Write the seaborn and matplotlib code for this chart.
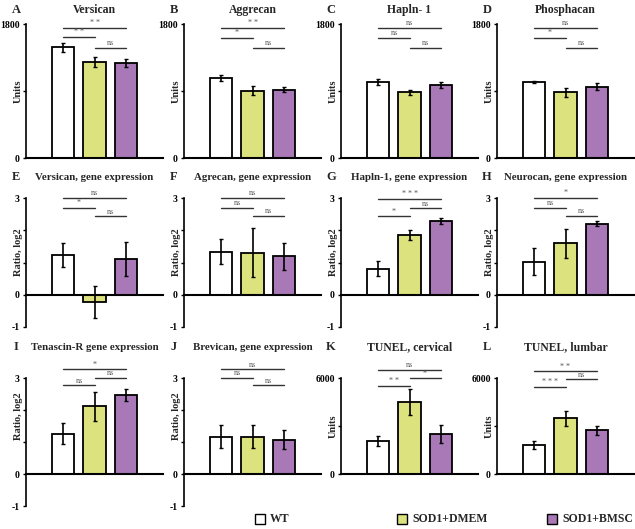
import seaborn as sns
import matplotlib.pyplot as plt
import pandas as pd
from matplotlib.patches import Rectangle

sns.set_theme(style="ticks")
plt.rcParams['font.family'] = ['Liberation Serif', 'DejaVu Serif']
plt.rcParams['font.weight'] = 'bold'

groups = ["WT", "SOD1+DMEM", "SOD1+BMSC"]
colors = ["#ffffff", "#dce27d", "#a879b6"]

letters = ["A", "B", "C", "D", "E", "F", "G", "H", "I", "J", "K", "L"]
titles = ["Versican", "Aggrecan", "Hapln- 1", "Phosphacan",
          "Versican, gene expression", "Agrecan, gene expression",
          "Hapln-1, gene expression", "Neurocan, gene expression",
          "Tenascin-R gene expression", "Brevican, gene expression",
          "TUNEL, cervical", "TUNEL, lumbar"]

# values
versican_mean = [1490, 1290, 1275]
versican_err = [60, 70, 50]
aggrecan_mean = [1080, 905, 920]
aggrecan_err = [40, 60, 40]
hapln_mean = [1015, 880, 985]
hapln_err = [40, 40, 40]
phosphacan_mean = [1025, 880, 960]
phosphacan_err = [15, 60, 50]
versican_ge_mean = [1.23, -0.22, 1.11]
versican_ge_err = [0.36, 0.49, 0.54]
agrecan_ge_mean = [1.33, 1.31, 1.20]
agrecan_ge_err = [0.39, 0.75, 0.42]
hapln_ge_mean = [0.81, 1.85, 2.28]
hapln_ge_err = [0.24, 0.16, 0.10]
neurocan_ge_mean = [1.03, 1.59, 2.20]
neurocan_ge_err = [0.42, 0.46, 0.08]
tenascin_ge_mean = [1.26, 2.11, 2.46]
tenascin_ge_err = [0.32, 0.46, 0.19]
brevican_ge_mean = [1.17, 1.17, 1.07]
brevican_ge_err = [0.37, 0.37, 0.29]
tunel_cerv_mean = [2070, 4510, 2480]
tunel_cerv_err = [300, 800, 570]
tunel_lumb_mean = [1810, 3480, 2725]
tunel_lumb_err = [275, 460, 305]

# significance brackets: (from, to, level, label)
sig_A = [(0, 2, 1746, "* *"), (0, 1, 1625, "* *"), (1, 2, 1478, "ns")]
sig_B = [(0, 2, 1747, "* *"), (0, 1, 1613, "*"), (1, 2, 1480, "ns")]
sig_C = [(0, 2, 1747, "ns"), (0, 1, 1613, "ns"), (1, 2, 1480, "ns")]
sig_D = [(0, 2, 1747, "ns"), (0, 1, 1613, "*"), (1, 2, 1480, "ns")]
sig_E = [(0, 2, 3.0, "ns"), (0, 1, 2.69, "*"), (1, 2, 2.43, "ns")]
sig_F = [(0, 2, 3.0, "ns"), (0, 1, 2.69, "ns"), (1, 2, 2.44, "ns")]
sig_G = [(0, 2, 2.97, "* * *"), (1, 2, 2.68, "ns"), (0, 1, 2.43, "*")]
sig_H = [(0, 2, 3.0, "*"), (0, 1, 2.69, "ns"), (1, 2, 2.44, "ns")]
sig_I = [(0, 2, 3.27, "*"), (1, 2, 3.01, "ns"), (0, 1, 2.77, "ns")]
sig_J = [(0, 2, 3.27, "ns"), (0, 1, 3.01, "ns"), (1, 2, 2.77, "ns")]
sig_K = [(0, 2, 6517, "ns"), (1, 2, 6000, "*"), (0, 1, 5503, "* *")]
sig_L = [(0, 2, 6427, "* *"), (1, 2, 5919, "ns"), (0, 1, 5451, "* * *")]

means = [versican_mean, aggrecan_mean, hapln_mean, phosphacan_mean,
         versican_ge_mean, agrecan_ge_mean, hapln_ge_mean, neurocan_ge_mean,
         tenascin_ge_mean, brevican_ge_mean, tunel_cerv_mean, tunel_lumb_mean]
errs = [versican_err, aggrecan_err, hapln_err, phosphacan_err,
        versican_ge_err, agrecan_ge_err, hapln_ge_err, neurocan_ge_err,
        tenascin_ge_err, brevican_ge_err, tunel_cerv_err, tunel_lumb_err]
sigs = [sig_A, sig_B, sig_C, sig_D, sig_E, sig_F, sig_G, sig_H,
        sig_I, sig_J, sig_K, sig_L]

W, H = 635, 529
fig = plt.figure(figsize=(6.35, 5.29), dpi=100)

col_left = [26, 184, 341, 497]
aw = 137

for k in range(12):
    row, col = divmod(k, 4)
    left = col_left[col]
    if row == 0:
        top, bottom = 24, 158
        ylim, ticks, labels = (0, 1800), [0, 900, 1800], ["0", "", "1800"]
        ylab, ly = "Units", 0.5
        title_y, tsize = 10, 8.5
    elif row == 1:
        top, bottom = 198, 327
        ylim, ticks, labels = (-1, 3), [-1, 0, 1, 2, 3], ["-1", "0", "", "", "3"]
        ylab, ly = "Ratio, log2", 0.58
        title_y, tsize = 177, 7.8
    else:
        if col < 2:
            top, bottom = 378, 506
            ylim, ticks, labels = (-1, 3), [-1, 0, 1, 2, 3], ["-1", "0", "", "", "3"]
            ylab, ly = "Ratio, log2", 0.70
            tsize = 7.8
        else:
            top, bottom = 378, 474
            ylim, ticks, labels = (0, 6000), [0, 3000, 6000], ["0", "", "6000"]
            ylab, ly = "Units", 0.5
            tsize = 8.5
        title_y = 347

    ax = fig.add_axes([left / W, 1 - bottom / H, aw / W, (bottom - top) / H])
    df = pd.DataFrame({"group": groups, "value": means[k]})
    sns.barplot(data=df, x="group", y="value", hue="group", order=groups,
                hue_order=groups, palette=colors, saturation=1, width=0.71,
                errorbar=None, edgecolor="black", linewidth=1.3, legend=False,
                ax=ax)
    ax.errorbar(range(3), means[k], yerr=errs[k], fmt="none", ecolor="black",
                elinewidth=1.2, capsize=1.5, capthick=1, zorder=3)

    ax.set_xlim(-1.2, 3.2)
    ax.set_ylim(*ylim)
    ax.set_xticks([])
    ax.set_xlabel("")
    ax.set_yticks(ticks)
    ax.set_yticklabels(labels)
    ax.tick_params(axis="y", length=2.5, width=1, pad=2, labelsize=7,
                   colors="black")
    for s in ["top", "right"]:
        ax.spines[s].set_visible(False)
    ax.spines["left"].set_linewidth(1.2)
    ax.spines["left"].set_color("black")
    ax.spines["bottom"].set_linewidth(1.5)
    ax.spines["bottom"].set_color("black")
    if ylim[0] < 0:
        ax.spines["bottom"].set_position(("data", 0))
    ax.set_ylabel(ylab, fontsize=7.5, fontweight="bold")
    ax.yaxis.set_label_coords(-0.025, ly)

    span = ylim[1] - ylim[0]
    for i, j, lev, txt in sigs[k]:
        ax.plot([i, j], [lev, lev], color="#333333", lw=1, clip_on=False)
        ax.text((i + j) / 2, lev + span * 0.005, txt, ha="center", va="bottom",
                fontsize=5.8, color="#555555", fontweight="normal", clip_on=False)

    fig.text((left + aw / 2) / W, 1 - title_y / H, titles[k], ha="center",
             va="center", fontsize=tsize, fontweight="bold")
    fig.text((left - 10) / W, 1 - title_y / H, letters[k], ha="center",
             va="center", fontsize=9, fontweight="bold")

# legend
leg_x = [255, 397, 547]
for x, c, g in zip(leg_x, colors, groups):
    fig.patches.append(Rectangle((x / W, (H - 524) / H), 10 / W, 10 / H,
                                 transform=fig.transFigure, facecolor=c,
                                 edgecolor="black", lw=1))
    fig.text((x + 15) / W, (H - 519) / H, g, ha="left", va="center",
             fontsize=8.5, fontweight="bold")

fig.savefig("out.png", dpi=100)
